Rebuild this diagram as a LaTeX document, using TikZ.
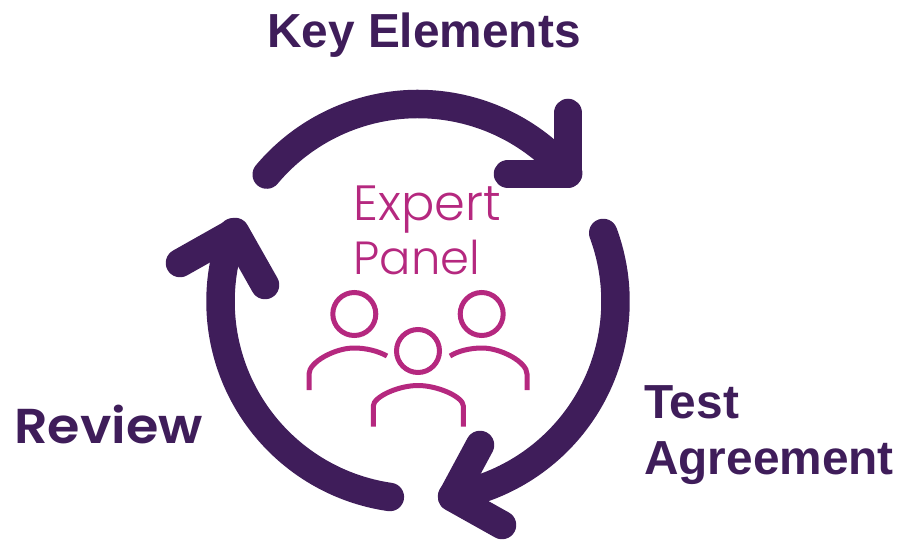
\documentclass[tikz,border=0pt]{standalone}
\usepackage{fontspec}
\usetikzlibrary{positioning}
\setmainfont{Liberation Sans}
\newfontfamily\panelfont{Poppins Light}
\newfontfamily\reviewfont[FakeStretch=1.07]{Poppins SemiBold}
\definecolor{cyclepurple}{HTML}{3F1D5A}
\definecolor{panelpink}{HTML}{B5287F}
\tikzset{
    cyclearrow/.style={draw=cyclepurple, line width=28.5pt, line cap=round, line join=round},
    person/.style={draw=panelpink, line width=5pt},
    headring/.style={person, circle, minimum size=43pt, inner sep=0pt},
    keylabel/.style={text=cyclepurple, font=\fontsize{47.8}{47.8}\selectfont\bfseries, inner sep=0pt, anchor=base west},
    panellabel/.style={text=panelpink, inner sep=0pt, anchor=base west}
}
\begin{document}
\begin{tikzpicture}[x=1pt,y=-1pt]
    \useasboundingbox (0,0) rectangle (899,540);
    \coordinate (hub) at (418,301.5);
    % arc of each arrow
    \foreach \tag/\from/\to in {key/140/40.5,test/20.3/-80,review/261.8/159.5}{
        \coordinate (\tag start) at ([shift={(\from:197.5pt)}]hub);
        \draw[cyclearrow] (\tag start) arc[start angle=\from, end angle=\to, radius=197.5pt];
    }
    % heads
    \coordinate (keytip) at (568,174);
    \coordinate (testtip) at (452,497);
    \coordinate (reviewtip) at (235,232);
    \draw[cyclearrow] (568,113) coordinate (keybarbup) -- (keytip) -- (508,174) coordinate (keybarbin);
    \draw[cyclearrow] (480,445) coordinate (testbarbup) -- (testtip) -- (502,525) coordinate (testbarbin);
    \draw[cyclearrow] (180,263) coordinate (reviewbarbup) -- (reviewtip) -- (265,285) coordinate (reviewbarbin);
    \node[keylabel] (keyelements) at (267,48) {Key Elements};
    \node[keylabel] (test) at (644,418) {Test};
    \node[keylabel] (agreement) at (644,474) {Agreement};
    \node[keylabel, font=\fontsize{49}{49}\reviewfont] (review) at (14,443) {Review};
    \node[panellabel, font=\fontsize{49.5}{49.5}\panelfont] (expert) at (353.5,220) {Expert};
    \node[panellabel, font=\fontsize{46.5}{46.5}\panelfont] (panel) at (353.5,274) {Panel};
    % people
    \node[headring] (headleft) at (354.3,314) {};
    \node[headring] (headright) at (481.7,314) {};
    \node[headring] (headmid) at (418,351) {};
    \draw[person] (309,390) -- (309,374) .. controls (309,362) and (335,348) .. (354,348) .. controls (366,348) and (378,351) .. (387,356);
    \draw[person] (527,390) -- (527,374) .. controls (527,362) and (501,348) .. (482,348) .. controls (470,348) and (458,351) .. (450,356);
    \draw[person] (373.3,426.7) -- (373.3,406) .. controls (373.3,397) and (398,385.5) .. (418,385.5) .. controls (438,385.5) and (463.3,397) .. (463.3,406) -- (463.3,426.7);
\end{tikzpicture}
\end{document}
